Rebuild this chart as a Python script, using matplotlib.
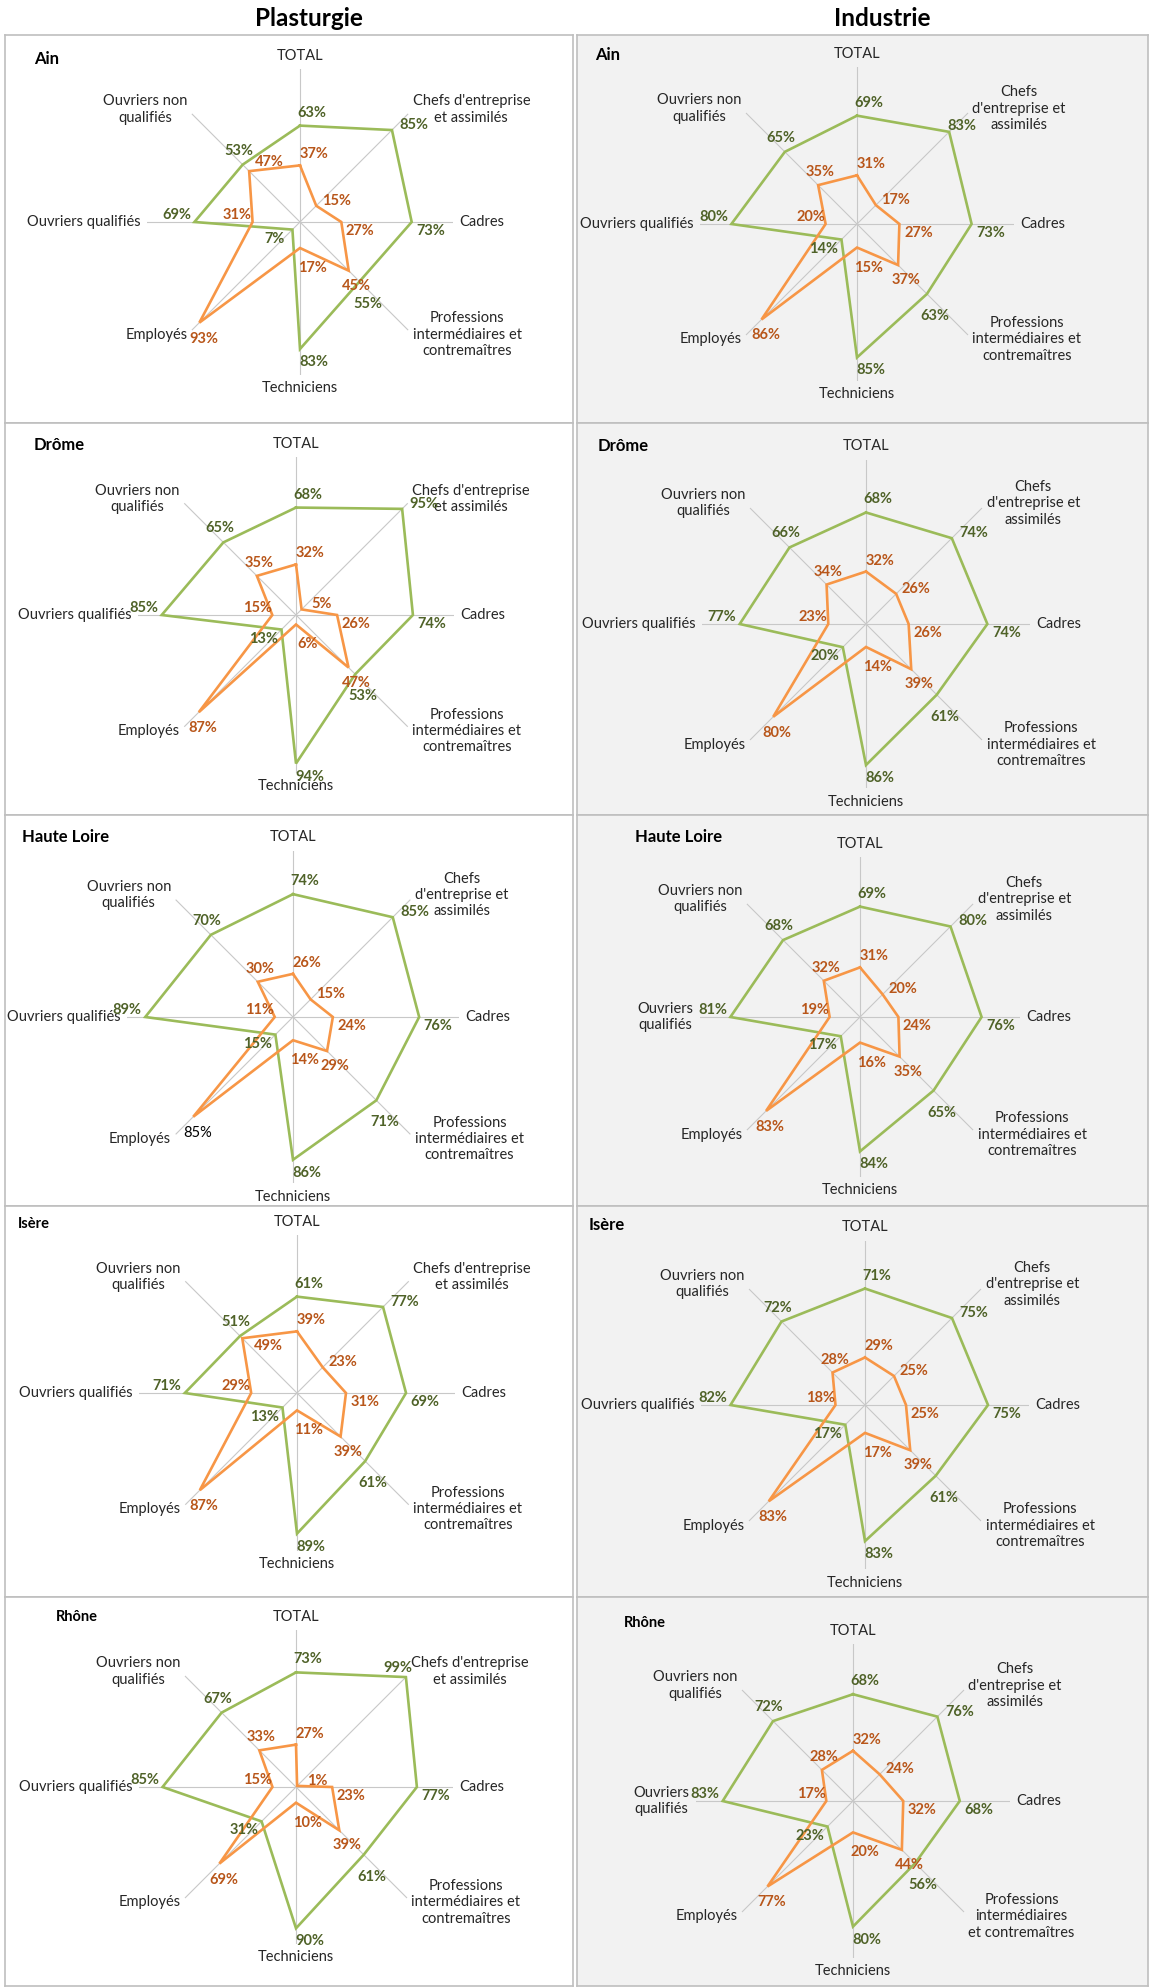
import numpy as np
import matplotlib
matplotlib.use("Agg")
import matplotlib.pyplot as plt
from matplotlib import rcParams

rcParams.update({
    "font.family": ["Lato", "DejaVu Sans"],
    "font.size": 10,
})

# ── données ───────────────────────────────────────────────
categories = ["TOTAL", "Chefs d'entreprise et assimilés", "Cadres",
              "Professions intermédiaires et contremaîtres", "Techniciens",
              "Employés", "Ouvriers qualifiés", "Ouvriers non qualifiés"]
departements = ["Ain", "Drôme", "Haute Loire", "Isère", "Rhône"]
secteurs = ["Plasturgie", "Industrie"]

# ordre : TOTAL, Chefs, Cadres, Prof. interm., Techniciens, Employés, OQ, ONQ
plasturgie_vert = [
    [63, 85, 73, 55, 83, 7, 69, 53],
    [68, 95, 74, 53, 94, 13, 85, 65],
    [74, 85, 76, 71, 86, 15, 89, 70],
    [61, 77, 69, 61, 89, 13, 71, 51],
    [73, 99, 77, 61, 90, 31, 85, 67],
]
plasturgie_orange = [
    [37, 15, 27, 45, 17, 93, 31, 47],
    [32, 5, 26, 47, 6, 87, 15, 35],
    [26, 15, 24, 29, 14, 85, 11, 30],
    [39, 23, 31, 39, 11, 87, 29, 49],
    [27, 1, 23, 39, 10, 69, 15, 33],
]
industrie_vert = [
    [69, 83, 73, 63, 85, 14, 80, 65],
    [68, 74, 74, 61, 86, 20, 77, 66],
    [69, 80, 76, 65, 84, 17, 81, 68],
    [71, 75, 75, 61, 83, 17, 82, 72],
    [68, 76, 68, 56, 80, 23, 83, 72],
]
industrie_orange = [
    [31, 17, 27, 37, 15, 86, 20, 35],
    [32, 26, 26, 39, 14, 80, 23, 34],
    [31, 20, 24, 35, 16, 83, 19, 32],
    [29, 25, 25, 39, 17, 83, 18, 28],
    [32, 24, 32, 44, 20, 77, 17, 28],
]

# ── couleurs ──────────────────────────────────────────────
C_GREEN = "#9BBB59"
C_GREEN_TXT = "#4F6228"
C_ORANGE = "#F79646"
C_ORANGE_TXT = "#B8561A"
C_SPOKE = "#C8C8C8"
C_BORDER = "#BFBFBF"

# ── mise en page (pixels de la figure) ────────────────────
W, H = 1150, 1988
col_x = [(5, 573), (577, 1148)]
row_y = [(35, 423), (423, 815), (815, 1206), (1206, 1597), (1597, 1986)]
centres = [
    [(300, 222, 153), (296, 615, 158), (293, 1017, 166), (297, 1393, 158), (296, 1787, 157)],
    [(857, 224, 157), (866, 624, 164), (860, 1017, 160), (865, 1405, 164), (853, 1801, 157)],
]
noms_pos = [
    [(34, 59, 12), (34, 445, 12), (22, 837, 12), (18, 1224, 10.5), (56, 1617, 10.5)],
    [(595, 55, 12), (598, 446, 12), (635, 837, 12), (589, 1225, 12), (624, 1623, 10.5)],
]
# décalage des étiquettes de valeur (px, y vers le haut)
off_vert = [(12, 13), (22, 5), (19, -9), (8, -22), (14, -13), (-18, -9), (-18, 7), (-4, 14)]
off_orange = [(14, 11), (20, 5), (19, -9), (8, -15), (12, -20), (4, -16), (-15, 7), (2, 13)]
off_special = {
    (0, 0, "o", 7): (20, 9),
    (0, 3, "o", 7): (26, -8),
    (0, 4, "v", 1): (-8, 9),
    (1, 0, "v", 1): (13, 6),
}

CHEFS_2 = "Chefs d'entreprise\net assimilés"
CHEFS_3 = "Chefs\nd'entreprise et\nassimilés"
PROF_A = "Professions\nintermédiaires et\ncontremaîtres"
PROF_B = "Professions\nintermédiaires\net contremaîtres"
ONQ = "Ouvriers non\nqualifiés"
OQ_1 = "Ouvriers qualifiés"
OQ_2 = "Ouvriers\nqualifiés"


def libelles(col, row):
    chefs = CHEFS_2 if col == 0 and row != 2 else CHEFS_3
    oq = OQ_2 if col == 1 and row in (2, 4) else OQ_1
    prof = PROF_B if (col, row) == (1, 4) else PROF_A
    return ["TOTAL", chefs, "Cadres", prof, "Techniciens", "Employés", oq, ONQ]


fig = plt.figure(figsize=(W / 100, H / 100), dpi=100)

for col, secteur in enumerate(secteurs):
    x0, x1 = col_x[col]
    fig.text(((x0 + x1) / 2 + 20) / W, 1 - 18 / H, secteur, ha="center", va="center",
             fontsize=17.5, fontweight="bold")
    vert = plasturgie_vert if col == 0 else industrie_vert
    orange = plasturgie_orange if col == 0 else industrie_orange

    for row, dep in enumerate(departements):
        y0, y1 = row_y[row]
        bg = fig.add_axes([x0 / W, 1 - y1 / H, (x1 - x0) / W, (y1 - y0) / H])
        bg.set_facecolor("white" if col == 0 else "#F2F2F2")
        bg.set_xticks([])
        bg.set_yticks([])
        for sp in bg.spines.values():
            sp.set_color(C_BORDER)
            sp.set_linewidth(1.2)

        nx, ny, nfs = noms_pos[col][row]
        fig.text(nx / W, 1 - ny / H, dep, ha="left", va="center",
                 fontsize=nfs, fontweight="bold")

        cx, cy, r = centres[col][row]
        ax = fig.add_axes([(cx - r) / W, 1 - (cy + r) / H, 2 * r / W, 2 * r / H],
                          projection="polar")
        ax.set_facecolor("none")
        ax.set_theta_zero_location("N")
        ax.set_theta_direction(-1)
        theta = np.arange(len(categories)) * 2 * np.pi / len(categories)
        ax.set_xticks(theta)
        ax.set_xticklabels([])
        ax.set_yticks([])
        ax.set_ylim(0, 100)
        ax.grid(True, color=C_SPOKE, linewidth=0.8)
        ax.spines["polar"].set_visible(False)

        th = np.append(theta, theta[0])
        for vals, c in ((vert[row], C_GREEN), (orange[row], C_ORANGE)):
            ax.plot(th, np.append(vals, vals[0]), color=c, linewidth=1.9,
                    solid_joinstyle="miter", zorder=3)

        for key, vals, offs, c in (("v", vert[row], off_vert, C_GREEN_TXT),
                                   ("o", orange[row], off_orange, C_ORANGE_TXT)):
            for i, v in enumerate(vals):
                dx, dy = off_special.get((col, row, key, i), offs[i])
                style = dict(color=c, fontweight="bold")
                if (col, row, key, i) == (0, 2, "o", 5):
                    style = dict(color="black", fontweight="normal")
                ax.annotate(f"{v}%", xy=(theta[i], v), xytext=(dx * 0.72, dy * 0.72),
                            textcoords="offset points", ha="center", va="center",
                            fontsize=10.5, annotation_clip=False, zorder=4, **style)

        for i, lab in enumerate(libelles(col, row)):
            s, c = np.sin(theta[i]), np.cos(theta[i])
            ha = "left" if s > 0.1 else ("right" if s < -0.1 else "center")
            va = "center"
            if abs(s) < 0.1:
                va = "bottom" if c > 0 else "top"
            ax.text(theta[i], 104, lab, ha=ha, va=va, fontsize=10.5,
                    multialignment="center", color="#262626", clip_on=False)

fig.savefig("out.png", dpi=100)
